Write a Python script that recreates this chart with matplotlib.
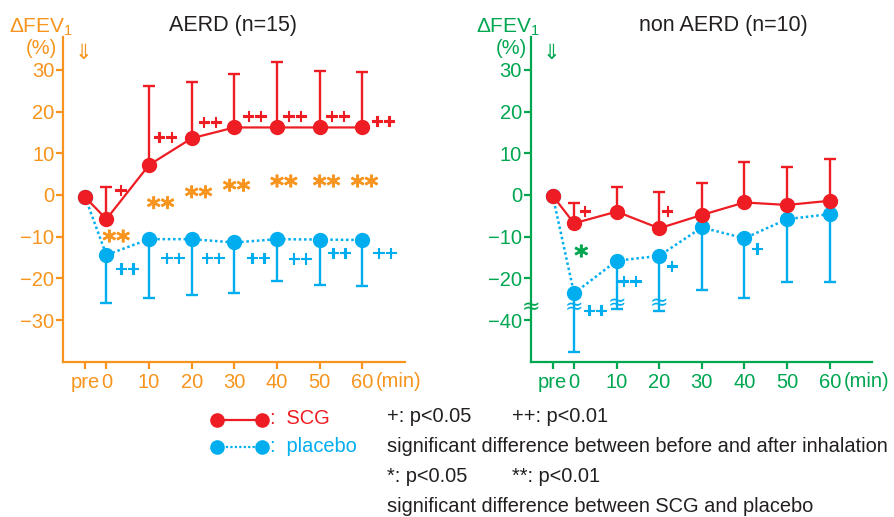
import numpy as np
import matplotlib
matplotlib.use('Agg')
import matplotlib.pyplot as plt
from matplotlib.lines import Line2D
import matplotlib.transforms as mtrans
import matplotlib.patheffects as pe

plt.rcParams['font.family'] = ['Liberation Sans', 'DejaVu Sans']
plt.rcParams['mathtext.fontset'] = 'custom'
plt.rcParams['mathtext.rm'] = 'Liberation Sans'
plt.rcParams['mathtext.it'] = 'Liberation Sans:italic'
plt.rcParams['mathtext.bf'] = 'Liberation Sans:bold'

# ---------------- data ----------------
times = [-5, 0, 10, 20, 30, 40, 50, 60]
time_labels = ['pre', '0', '10', '20', '30', '40', '50', '60']

# AERD (n=15)
aerd_scg = [-0.5, -5.8, 7.2, 13.6, 16.2, 16.2, 16.2, 16.2]
aerd_scg_sd = [7.8, 19.0, 13.4, 12.8, 15.6, 13.6, 13.2]          # upward, from time 0 on
aerd_pla = [-0.5, -14.4, -10.6, -10.6, -11.4, -10.6, -10.7, -10.8]
aerd_pla_sd = [11.4, 14.0, 13.5, 12.2, 10.0, 10.9, 11.0]         # downward

# non AERD (n=10)
non_scg = [-0.2, -6.8, -4.0, -8.0, -4.8, -1.8, -2.4, -1.4]
non_scg_sd = [4.8, 5.8, 8.6, 7.6, 9.6, 9.0, 10.0]
non_pla = [-0.2, -23.6, -15.8, -14.6, -7.8, -10.4, -5.8, -4.6]
non_pla_sd = [24.0, 21.6, 23.2, 15.0, 14.4, 15.2, 16.2]

yticks_left = [30, 20, 10, 0, -10, -20, -30]
yticks_right = [30, 20, 10, 0, -10, -20, -40]

# significance marks (text, x, y)
aerd_scg_sig = [('+', 3.3, 0.8), ('++', 13.8, 13.6), ('++', 24.2, 17.2), ('++', 34.7, 18.6),
                ('++', 44.1, 18.6), ('++', 54.2, 18.6), ('++', 64.8, 17.4)]
aerd_pla_sig = [('++', 4.8, -18.0), ('++', 15.5, -15.4), ('++', 24.9, -15.4), ('++', 35.5, -15.4),
                ('++', 45.3, -15.6), ('++', 54.5, -14.2), ('++', 65.2, -14.2)]
aerd_diff_sig = [('**', 2.3, -10.0), ('**', 12.7, -2.0), ('**', 21.6, 0.6), ('**', 30.5, 2.2),
                 ('**', 41.6, 3.2), ('**', 51.6, 3.2), ('**', 60.5, 3.2)]
non_scg_sig = [('+', 2.5, -4.2), ('+', 21.9, -4.2)]
non_pla_sig = [('++', 4.9, -38.0), ('++', 13.0, -21.0), ('+', 22.9, -17.4), ('+', 42.9, -13.2)]
non_diff_sig = [('*', 1.7, -13.6)]

# ---------------- style ----------------
RED = '#EE1D23'
BLUE = '#00AEEF'
ORANGE = '#F7941D'
GREEN = '#00A650'
DARK = '#231F20'

TICK_FS = 14.5
LEG_FS = 14.4

W, H = 895, 517
fig = plt.figure(figsize=(W / 100, H / 100), dpi=100)


def fx(px):
    return px / W


def fy(py):
    return 1 - py / H


# broken y scale for right panel (gap between -26 and -36)
B_HI, B_LO, K = -26.0, -36.0, 0.001
D_LO = B_HI + (B_LO - B_HI) * K


def fwd(v):
    v = np.asarray(v, dtype=float)
    return np.where(v >= B_HI, v,
                    np.where(v >= B_LO, B_HI + (v - B_HI) * K, D_LO + (v - B_LO)))


def inv(d):
    d = np.asarray(d, dtype=float)
    return np.where(d >= B_HI, d,
                    np.where(d >= D_LO, B_HI + (d - B_HI) / K, B_LO + (d - D_LO)))


def minus(v):
    return str(v).replace('-', '\u2212')


def panel(rect, col, scg, scg_sd, pla, pla_sd, yticks, ylim, broken=False):
    ax = fig.add_axes(rect)
    if broken:
        ax.set_yscale('function', functions=(fwd, inv))
    for s in ['top', 'right']:
        ax.spines[s].set_visible(False)
    for s in ['left', 'bottom']:
        ax.spines[s].set_color(col)
        ax.spines[s].set_linewidth(1.6)
    ax.set_xlim(-10.1, 70)
    ax.set_ylim(*ylim)
    ax.set_xticks(times)
    ax.set_xticklabels(time_labels)
    ax.set_yticks(yticks)
    ax.set_yticklabels([minus(t) for t in yticks])
    ax.tick_params(axis='both', colors=col, labelcolor=col, labelsize=TICK_FS,
                   width=1.6, length=5, direction='out')
    ax.tick_params(axis='y', pad=1.5)
    ax.tick_params(axis='x', pad=3)

    t = times[1:]
    ax.errorbar(t, pla[1:], yerr=[pla_sd, np.zeros(len(pla_sd))], fmt='none',
                ecolor=BLUE, elinewidth=1.7, capsize=4, capthick=1.7, zorder=2)
    ax.errorbar(t, scg[1:], yerr=[np.zeros(len(scg_sd)), scg_sd], fmt='none',
                ecolor=RED, elinewidth=1.7, capsize=4, capthick=1.7, zorder=2)
    ax.plot(times, pla, color=BLUE, ls=(0, (1, 1.1)), lw=1.8, marker='o', ms=10,
            mec=BLUE, zorder=3)
    ax.plot(times, scg, color=RED, lw=1.6, marker='o', ms=10, mec=RED, zorder=4)

    ax.text(63.2, -0.062, '(min)',
            transform=mtrans.blended_transform_factory(ax.transData, ax.transAxes),
            color=col, fontsize=TICK_FS, ha='left', va='center')
    ax.text(-5.4, 34.0, '\u21d3', color=col, fontsize=15, ha='center', va='center',
            family=['DejaVu Sans'])
    return ax


axL = panel([fx(63.3), fy(361.7), fx(405) - fx(63.3), fy(37) - fy(361.7)], ORANGE,
            aerd_scg, aerd_scg_sd, aerd_pla, aerd_pla_sd, yticks_left, (-40, 37.9))
axR = panel([fx(531), fy(361.7), fx(872.3) - fx(531), fy(37) - fy(361.7)], GREEN,
            non_scg, non_scg_sd, non_pla, non_pla_sd, yticks_right, (-50, 37.9),
            broken=True)


def marks(ax, lst, col, size=15, dy=0.0, family=None, stroke=0.8, weight='normal'):
    for txt, x, y in lst:
        kw = {}
        if family:
            kw['family'] = family
        ax.text(x, y + dy, txt, color=col, fontsize=size, fontweight=weight,
                ha='center', va='center', zorder=6,
                path_effects=[pe.withStroke(linewidth=stroke, foreground=col)], **kw)


marks(axL, aerd_scg_sig, RED)
marks(axL, aerd_pla_sig, BLUE)
marks(axL, aerd_diff_sig, ORANGE, size=19, dy=-1.4, family=['DejaVu Sans'], stroke=0.5,
      weight='bold')
marks(axR, non_scg_sig, RED)
marks(axR, non_pla_sig, BLUE)
marks(axR, non_diff_sig, GREEN, size=19, dy=-1.4, family=['DejaVu Sans'], stroke=0.5,
      weight='bold')

# break symbols on right panel
for x, off in [(0, -4), (10, 0), (20, 0)]:
    axR.text(x, -26.0, '\u2248', color=BLUE, fontsize=16, ha='center', va='center',
             zorder=5, family=['DejaVu Sans'],
             transform=mtrans.offset_copy(axR.transData, fig=fig, x=0, y=off, units='dots'))
axR.text(-10.1, -26.0, '\u2248', color=GREEN, fontsize=16, ha='center', va='center',
         zorder=5, family=['DejaVu Sans'],
         transform=mtrans.offset_copy(axR.transData, fig=fig, x=0, y=-4, units='dots'))

# titles and axis labels
fig.text(fx(233), fy(25), 'AERD (n=15)', color=DARK, fontsize=15.5, ha='center', va='center')
fig.text(fx(723), fy(25), 'non AERD (n=10)', color=DARK, fontsize=15.5, ha='center', va='center')
fig.text(fx(9), fy(27), '\u0394FEV$_1$', color=ORANGE, fontsize=15, ha='left', va='center')
fig.text(fx(41), fy(49), '(%)', color=ORANGE, fontsize=14.5, ha='center', va='center')
fig.text(fx(476), fy(27), '\u0394FEV$_1$', color=GREEN, fontsize=15, ha='left', va='center')
fig.text(fx(511), fy(49), '(%)', color=GREEN, fontsize=14.5, ha='center', va='center')

# legend
fig.add_artist(Line2D([fx(216.7), fx(261.7)], [fy(420)] * 2, transform=fig.transFigure,
                      color=RED, lw=1.6, marker='o', ms=9.5))
fig.add_artist(Line2D([fx(216.7), fx(261.7)], [fy(447)] * 2, transform=fig.transFigure,
                      color=BLUE, lw=1.6, ls=(0, (1, 1)), marker='o', ms=9.5))
fig.text(fx(270), fy(419), ':  SCG', color=RED, fontsize=LEG_FS, ha='left', va='center')
fig.text(fx(270), fy(446), ':  placebo', color=BLUE, fontsize=LEG_FS, ha='left', va='center')

fig.text(fx(387), fy(417), '+: p<0.05', color=DARK, fontsize=LEG_FS, ha='left', va='center')
fig.text(fx(512), fy(417), '++: p<0.01', color=DARK, fontsize=LEG_FS, ha='left', va='center')
fig.text(fx(387), fy(447), 'significant difference between before and after inhalation',
         color=DARK, fontsize=LEG_FS, ha='left', va='center')
fig.text(fx(387), fy(477), '*: p<0.05', color=DARK, fontsize=LEG_FS, ha='left', va='center')
fig.text(fx(512), fy(477), '**: p<0.01', color=DARK, fontsize=LEG_FS, ha='left', va='center')
fig.text(fx(387), fy(507), 'significant difference between SCG and placebo',
         color=DARK, fontsize=LEG_FS, ha='left', va='center')

fig.savefig('out.png', dpi=100)
